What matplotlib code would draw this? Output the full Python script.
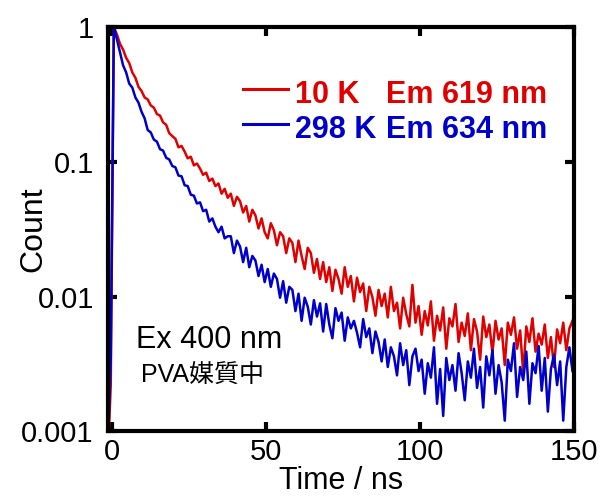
import numpy as np
import matplotlib
matplotlib.use("Agg")
import matplotlib.pyplot as plt
from matplotlib.ticker import NullLocator

plt.rcParams['font.family'] = ['Liberation Sans', 'Noto Sans CJK JP', 'DejaVu Sans']

# normalized decay counts, 1 ns bins starting at t = -1.5 ns
red_10K = [
    0.0006, 0.0022, 1.0, 0.88, 0.75, 0.68, 0.59, 0.54, 0.46, 0.42,
    0.36, 0.335, 0.30, 0.29, 0.262, 0.252, 0.226, 0.22, 0.196, 0.188,
    0.163, 0.155, 0.148, 0.128, 0.131, 0.119, 0.106, 0.109, 0.094, 0.097,
    0.089, 0.080, 0.083, 0.072, 0.075, 0.066, 0.069, 0.058, 0.063, 0.054,
    0.058, 0.047, 0.055, 0.051, 0.042, 0.047, 0.036, 0.044, 0.040, 0.032,
    0.038, 0.030, 0.027, 0.035, 0.031, 0.024, 0.030, 0.028, 0.021, 0.027,
    0.025, 0.018, 0.026, 0.020, 0.016, 0.023, 0.021, 0.015, 0.019, 0.0135,
    0.018, 0.0128, 0.0165, 0.011, 0.0158, 0.0135, 0.0105, 0.0165, 0.0118, 0.0142,
    0.0092, 0.0138, 0.0108, 0.0125, 0.0078, 0.0118, 0.0099, 0.0072, 0.0112, 0.0085,
    0.0105, 0.0070, 0.0118, 0.0078, 0.0090, 0.0058, 0.0098, 0.0074, 0.0060, 0.0122,
    0.0064, 0.0085, 0.0052, 0.0078, 0.0061, 0.0092, 0.0047, 0.0072, 0.0056, 0.0083,
    0.0041, 0.0069, 0.0060, 0.0088, 0.0046, 0.0064, 0.0051, 0.0075, 0.0040, 0.0068,
    0.0055, 0.0034, 0.0071, 0.0050, 0.0062, 0.0038, 0.0066, 0.0048, 0.0058, 0.0031,
    0.0064, 0.0052, 0.0070, 0.0041, 0.0056, 0.0027, 0.0060, 0.0046, 0.0069, 0.0039,
    0.0053, 0.0044, 0.0062, 0.0035, 0.0050, 0.0030, 0.0057, 0.0045, 0.0064, 0.0040,
    0.0058, 0.0066,
]
blue_298K = [
    0.0007, 0.0035, 1.0, 0.81, 0.65, 0.52, 0.46, 0.38, 0.355, 0.30,
    0.275, 0.235, 0.21, 0.172, 0.165, 0.146, 0.141, 0.124, 0.121, 0.107,
    0.104, 0.093, 0.091, 0.079, 0.078, 0.067, 0.066, 0.057, 0.056, 0.049,
    0.050, 0.043, 0.044, 0.036, 0.038, 0.033, 0.030, 0.033, 0.027, 0.028,
    0.028, 0.021, 0.026, 0.0235, 0.018, 0.023, 0.0165, 0.020, 0.0185, 0.0142,
    0.0172, 0.0128, 0.0160, 0.0118, 0.0148, 0.0135, 0.0098, 0.0130, 0.0090, 0.0118,
    0.0112, 0.0078, 0.0105, 0.0066, 0.0098, 0.0084, 0.0062, 0.0094, 0.0071, 0.0089,
    0.0055, 0.0088, 0.0062, 0.0049, 0.0082, 0.0066, 0.0076, 0.0047, 0.0070, 0.0058,
    0.0066, 0.0054, 0.0042, 0.0068, 0.0050, 0.0058, 0.0038, 0.0055, 0.0046, 0.0033,
    0.0048, 0.0030, 0.0042, 0.0036, 0.0026, 0.0045, 0.0031, 0.0040, 0.0022, 0.0036,
    0.0041, 0.0028, 0.0034, 0.0019, 0.0032, 0.0025, 0.0042, 0.0016, 0.0029, 0.0013,
    0.0035, 0.0024, 0.0031, 0.0020, 0.0038, 0.0027, 0.0017, 0.0033, 0.0025, 0.0041,
    0.0021, 0.0030, 0.0015, 0.0036, 0.0026, 0.0040, 0.0019, 0.0031, 0.0023, 0.0012,
    0.0034, 0.0028, 0.0045, 0.0018, 0.0030, 0.0024, 0.0039, 0.0016, 0.0032, 0.0027,
    0.0043, 0.0020, 0.0035, 0.0014, 0.0029, 0.0037, 0.0022, 0.0033, 0.0012, 0.0030,
    0.0042, 0.0028,
]
time_ns = -1.5 + np.arange(len(red_10K))

x_ticks = [0, 50, 100, 150]
y_ticks = [0.001, 0.01, 0.1, 1]
y_ticklabels = ['0.001', '0.01', '0.1', '1']

RED = '#E00000'
BLUE = '#0000CC'

fig = plt.figure(figsize=(6.08, 4.97), dpi=100)
ax = fig.add_axes([0.1771, 0.1322, 0.767, 0.8135])

ax.plot(time_ns, red_10K, color=RED, lw=1.8)
ax.plot(time_ns, blue_298K, color=BLUE, lw=1.8)

ax.set_yscale('log')
ax.set_xlim(-1.5, 150)
ax.set_ylim(0.001, 1)
ax.set_xticks(x_ticks)
ax.set_xticklabels([str(v) for v in x_ticks])
ax.set_yticks(y_ticks)
ax.set_yticklabels(y_ticklabels)
ax.yaxis.set_minor_locator(NullLocator())
ax.tick_params(which='both', direction='in', top=True, right=True,
               length=6.5, width=3, labelsize=21)
ax.tick_params(axis='y', pad=10)
ax.tick_params(axis='x', pad=5)
for sp in ax.spines.values():
    sp.set_linewidth(3)

ax.set_xlabel('Time / ns', fontsize=22, labelpad=0)
ax.set_ylabel('Count', fontsize=23)
ax.yaxis.set_label_coords(-0.128, 0.5)

# legend drawn by hand
ax.plot([0.290, 0.387], [0.847, 0.847], color=RED, lw=2.2, transform=ax.transAxes)
ax.plot([0.290, 0.387], [0.760, 0.760], color=BLUE, lw=2.2, transform=ax.transAxes)
ax.text(0.402, 0.811, '10 K', color=RED, fontsize=22, fontweight='bold',
        transform=ax.transAxes, va='baseline')
ax.text(0.597, 0.811, 'Em 619 nm', color=RED, fontsize=22, fontweight='bold',
        transform=ax.transAxes, va='baseline')
ax.text(0.402, 0.725, '298 K', color=BLUE, fontsize=22, fontweight='bold',
        transform=ax.transAxes, va='baseline')
ax.text(0.597, 0.725, 'Em 634 nm', color=BLUE, fontsize=22, fontweight='bold',
        transform=ax.transAxes, va='baseline')

ax.text(0.060, 0.207, 'Ex 400 nm', fontsize=22, transform=ax.transAxes, va='baseline')
ax.text(0.071, 0.119, 'PVA媒質中', fontsize=18, transform=ax.transAxes, va='baseline')

fig.savefig('out.png', dpi=100)
